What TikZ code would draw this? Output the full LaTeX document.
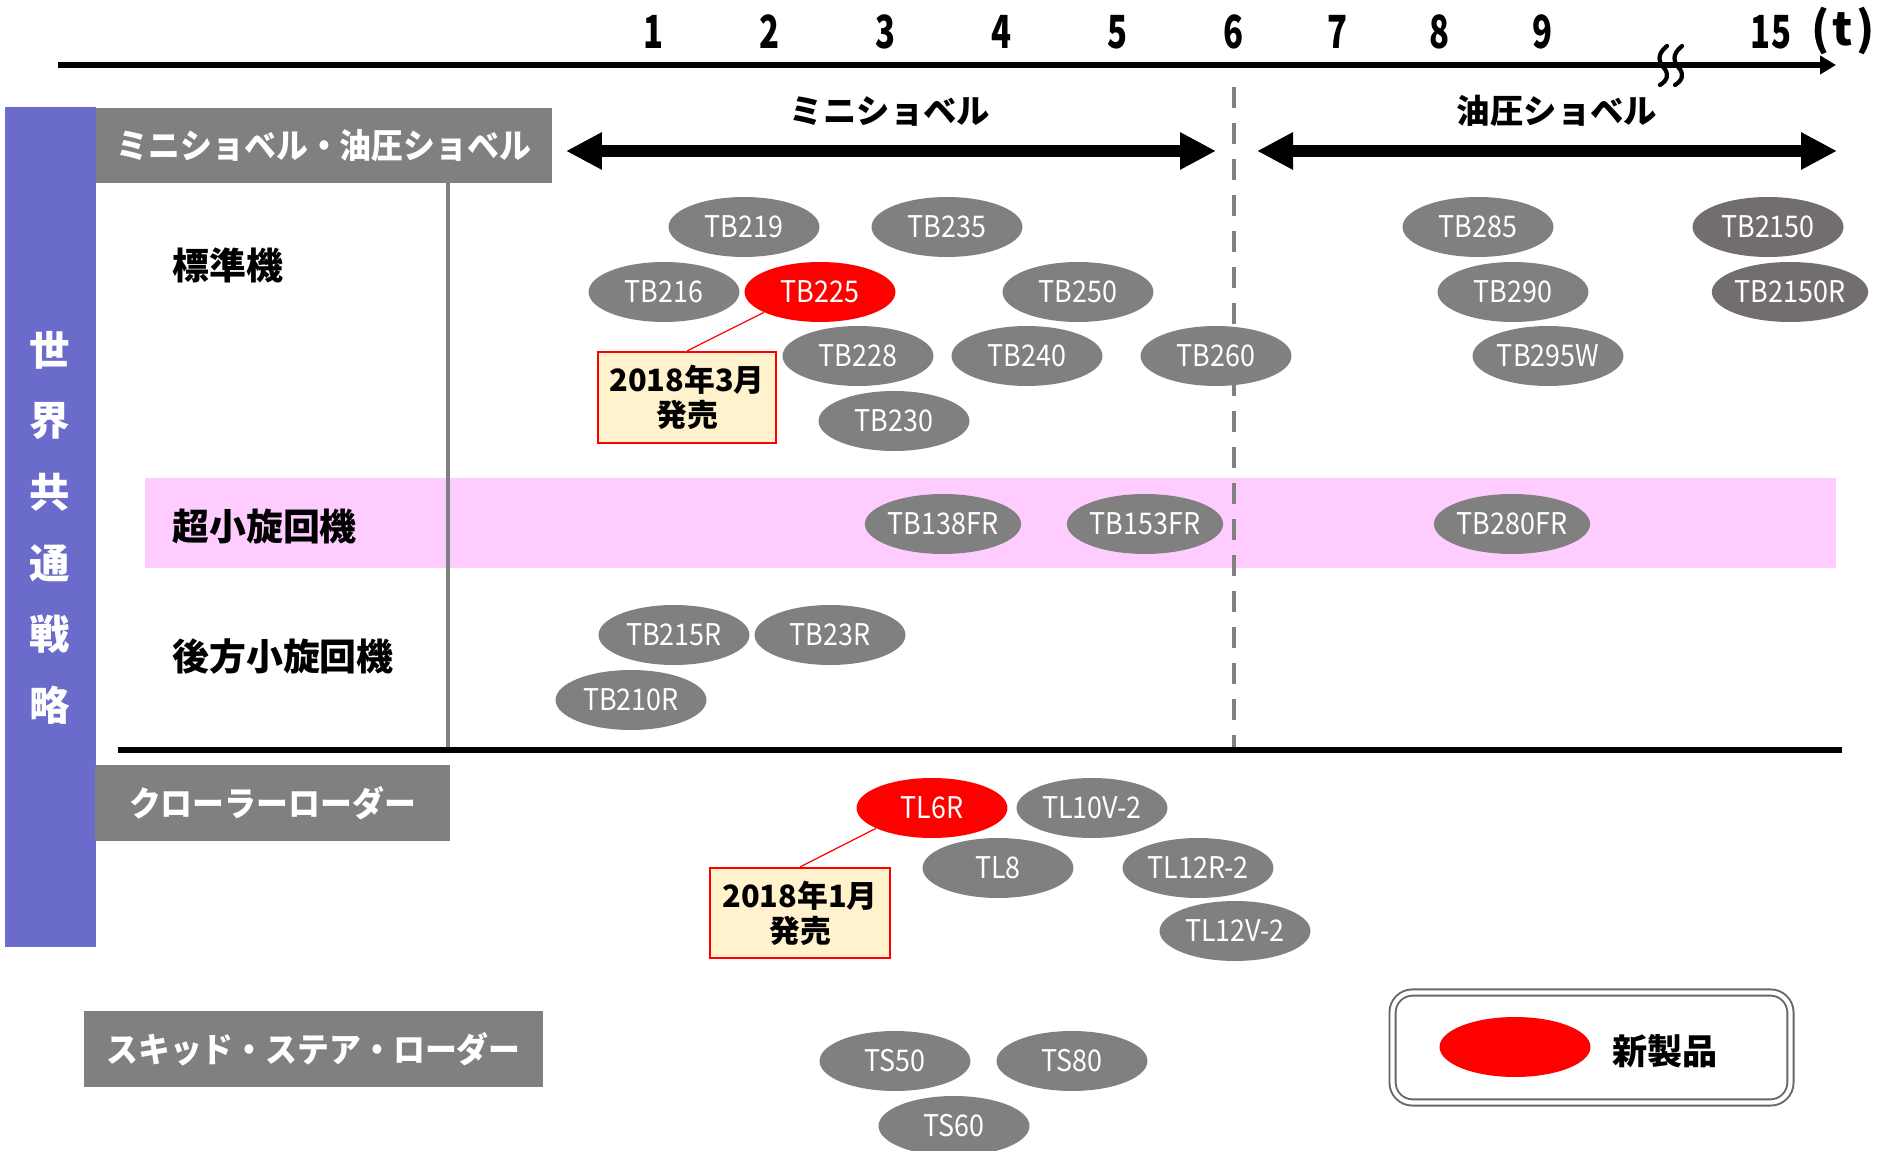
\documentclass[tikz,border=0pt]{standalone}
\usepackage{fontspec}
\usetikzlibrary{shapes.geometric,arrows.meta}

\newfontfamily\jp{Noto Sans CJK JP}
\newfontfamily\jphead{Noto Sans CJK JP}[FakeStretch=0.93]
\newfontfamily\jpmodel{Noto Sans CJK JP}[FakeStretch=0.9]
\newfontfamily\jptick{Noto Sans CJK JP}[FakeStretch=0.72]

\definecolor{modelgray}{HTML}{808080}
\definecolor{modeldark}{HTML}{726E6E}
\definecolor{headgray}{HTML}{808080}
\definecolor{barblue}{HTML}{6B6BCC}
\definecolor{bandpink}{HTML}{FFCCFF}
\definecolor{notefill}{HTML}{FFF2CC}
\definecolor{legendgray}{HTML}{666666}

\tikzset{
  model/.style={ellipse, fill=modelgray, minimum width=3.02cm, minimum height=1.2cm,
    inner sep=0pt, text=white, font=\jpmodel\fontsize{17}{20}\selectfont},
  darkmodel/.style={model, fill=modeldark},
  newmodel/.style={model, fill=red},
  header/.style={fill=headgray, text=white, inner sep=0pt,
    font=\jphead\bfseries\fontsize{19.5}{22}\selectfont},
  rowlabel/.style={anchor=west, inner sep=0pt, font=\jp\bfseries\fontsize{21}{24}\selectfont},
  tick/.style={inner sep=0pt, font=\jptick\bfseries\fontsize{26}{28}\selectfont},
  release/.style={draw=red, line width=1.2pt, fill=notefill, align=center, inner sep=0pt,
    font=\jp\bfseries\fontsize{17.5}{20}\selectfont},
  bigarrow/.style={line width=6.8pt,
    {Triangle[length=0.72cm,width=0.7cm]}-{Triangle[length=0.72cm,width=0.7cm]}},
  breakmark/.style={line width=2.4pt, line cap=round},
}

\begin{document}
\begin{tikzpicture}[x=0.02cm, y=-0.02cm]
    \useasboundingbox (0,0) rectangle (1881,1151);

    %% background bands
    \fill[barblue] (5,107) rectangle (96,947);
    \fill[bandpink] (145,478) rectangle (1836,568);
    \foreach \c [count=\i] in {世,界,共,通,戦,略}
        \node[text=white, font=\jp\bfseries\fontsize{23}{24}\selectfont] (v\i) at (50,{350+71*(\i-1)}) {\c};

    %% weight axis
    \coordinate (ax0) at (58,65);
    \coordinate (ax1) at (1836,65);
    \draw[line width=3.4pt, -{Triangle[length=0.32cm,width=0.36cm]}] (ax0) -- (ax1);
    \foreach \x/\t in {654/1,770/2,886/3,1002/4,1118/5,1234/6,1338/7,1440/8,1543/9,1771/15}
        \node[tick] (tick\t) at (\x,32) {\t};
    \node[tick, font=\jp\bfseries\fontsize{26}{28}\selectfont] (unit) at (1843,31) {(\kern2pt t\kern2pt)};
    \foreach \dx in {0,15}
        \draw[breakmark, shift={(\dx,0)}] (1667,46) .. controls (1656,55) and (1659,62) .. (1664,68)
            .. controls (1669,74) and (1668,80) .. (1660,85);

    %% frame lines
    \coordinate (sep0) at (448,183);
    \coordinate (sep1) at (448,748);
    \coordinate (six0) at (1234,87);
    \coordinate (six1) at (1234,748);
    \coordinate (base0) at (118,750);
    \coordinate (base1) at (1842,750);
    \draw[modelgray, line width=1.8pt] (sep0) -- (sep1);
    \draw[modelgray, line width=2.4pt, dash pattern=on 0.42cm off 0.3cm] (six0) -- (six1);
    \draw[line width=3.4pt] (base0) -- (base1);

    %% category headers
    \node[header, minimum width=9.12cm, minimum height=1.5cm] (hexc) at (324,145.5) {ミニショベル・油圧ショベル};
    \node[header, minimum width=7.1cm, minimum height=1.52cm] (hcrawl) at (272.5,803) {クローラーローダー};
    \node[header, minimum width=9.18cm, minimum height=1.52cm] (hskid) at (313.5,1049) {スキッド・ステア・ローダー};

    \node[rowlabel] (rstd) at (172,265) {標準機};
    \node[rowlabel] (rzero) at (172,526) {超小旋回機};
    \node[rowlabel] (rrear) at (172,657) {後方小旋回機};

    %% class ranges
    \coordinate (mini0) at (566,151);
    \coordinate (mini1) at (1216,151);
    \coordinate (hyd0) at (1257,151);
    \coordinate (hyd1) at (1837,151);
    \draw[bigarrow] (mini0) -- (mini1);
    \draw[bigarrow] (hyd0) -- (hyd1);
    \node[font=\jp\bfseries\fontsize{19}{22}\selectfont] (lmini) at (890,111) {ミニショベル};
    \node[font=\jp\bfseries\fontsize{19}{22}\selectfont] (lhyd) at (1557,111) {油圧ショベル};

    %% models
    \foreach \t/\x/\y in {TB219/744/227, TB235/947/227, TB216/664/292, TB250/1078/292,
            TB228/858/356, TB240/1027/356, TB260/1216/356, TB230/894/421,
            TB285/1478/227, TB290/1513/292, TB295W/1548/356,
            TB138FR/943/524, TB153FR/1145/524, TB280FR/1512/524,
            TB215R/674/635, TB23R/830/635, TB210R/631/700,
            TL10V-2/1092/808, TL8/998/868, TL12R-2/1198/868, TL12V-2/1235/931,
            TS50/895/1061, TS80/1072/1061, TS60/954/1126}
        \node[model] (\t) at (\x,\y) {\t};
    \node[darkmodel] (TB2150) at (1768,227) {TB2150};
    \node[darkmodel] (TB2150R) at (1790,292) {TB2150R};
    \node[newmodel] (TB225) at (820,292) {TB225};
    \node[newmodel] (TL6R) at (932,808) {TL6R};

    %% release notes
    \node[release, minimum width=3.56cm, minimum height=1.82cm] (note225) at (687,397.5) {2018年3月\\発売};
    \node[release, minimum width=3.6cm, minimum height=1.8cm] (note6r) at (800,913) {2018年1月\\発売};
    \draw[red, line width=0.7pt] (note225.north) -- (TB225.200);
    \draw[red, line width=0.7pt] (note6r.north) -- (TL6R.200);

    %% legend
    \node[draw=legendgray, line width=1.1pt, double=white, double distance=2.4pt,
        rounded corners=0.4cm, minimum width=7.96cm, minimum height=2.2cm] (legend) at (1591.5,1047.5) {};
    \node[ellipse, fill=red, minimum width=3.02cm, minimum height=1.2cm] (key) at (1515,1047) {};
    \node[font=\jp\bfseries\fontsize{20}{22}\selectfont] (keytext) at (1665,1051) {新製品};
\end{tikzpicture}
\end{document}
